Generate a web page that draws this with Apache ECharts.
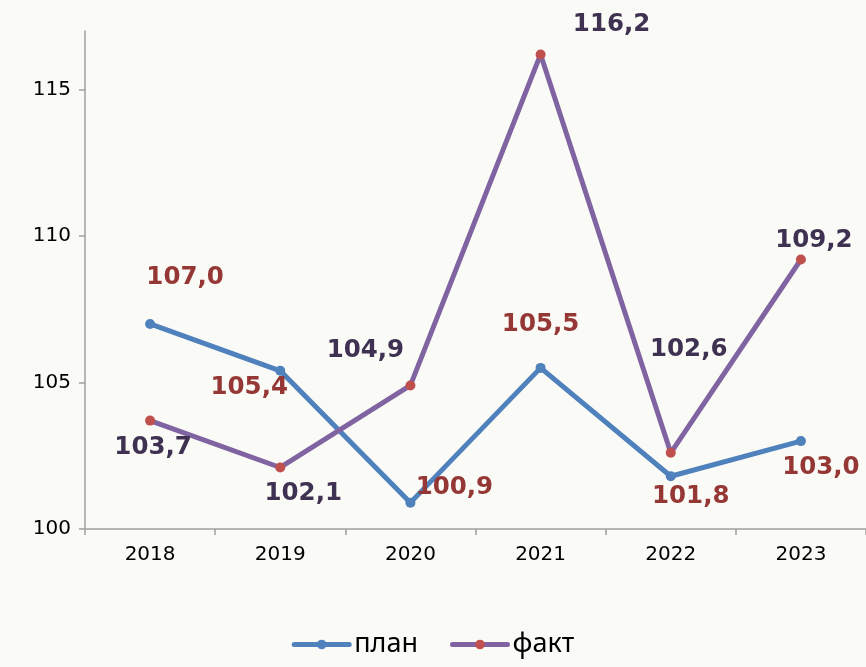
<!DOCTYPE html>
<html>
<head>
<meta charset="utf-8">
<script src="https://cdn.jsdelivr.net/npm/echarts@6/dist/echarts.min.js"></script>
<style>
html, body { margin: 0; padding: 0; background: #FAFAF6; }
#chart { width: 866px; height: 667px; }
</style>
</head>
<body>
<div id="chart"></div>
<script>
const years = ['2018', '2019', '2020', '2021', '2022', '2023']
const plan = [107.0, 105.4, 100.9, 105.5, 101.8, 103.0]
const fact = [103.7, 102.1, 104.9, 116.2, 102.6, 109.2]
const yTicks = [100, 105, 110, 115]

// label offsets per point (px)
const planOffsets = [[35, -46], [-31, 17], [44, -15], [0, -43], [20, 20], [20, 27]]
const factOffsets = [[3, 27], [23, 26], [-45, -35], [71, -30], [18, -103], [13, -19]]

const fmt = v => v.toFixed(1).replace('.', ',')

function withLabels (values, offsets, color) {
  return values.map((v, i) => ({
    value: v,
    label: {
      show: true,
      position: 'inside',
      offset: offsets[i],
      formatter: fmt(v),
      color: color,
      fontFamily: 'DejaVu Sans',
      fontWeight: 'bold',
      fontSize: 24.5
    }
  }))
}

const chart = echarts.init(document.getElementById('chart'))
const option = {
  backgroundColor: '#FAFAF6',
  animation: false,
  grid: { left: 85, right: -2, top: 31, bottom: 138, containLabel: false },
  legend: {
    bottom: 4,
    left: 'center',
    itemWidth: 55,
    itemHeight: 12,
    itemGap: 32,
    lineStyle: { width: 5, cap: 'round' },
    textStyle: { fontFamily: 'Noto Sans', fontSize: 27, color: '#000' },
    data: ['план', 'факт']
  },
  xAxis: {
    type: 'category',
    data: years,
    boundaryGap: true,
    axisLine: { lineStyle: { color: '#A0A0A0', width: 1.5 } },
    axisTick: { show: true, length: 6, lineStyle: { color: '#A0A0A0', width: 1.5 } },
    axisLabel: { fontFamily: 'DejaVu Sans', fontSize: 20, color: '#000', margin: 16 }
  },
  yAxis: {
    type: 'value',
    min: 100,
    max: 117,
    interval: 5,
    splitLine: { show: false },
    axisLine: { show: true, lineStyle: { color: '#A0A0A0', width: 1.5 } },
    axisTick: {
      show: true, length: 6, customValues: yTicks,
      lineStyle: { color: '#A0A0A0', width: 1.5 }
    },
    axisLabel: {
      fontFamily: 'DejaVu Sans', fontSize: 20, color: '#000', margin: 14,
      customValues: yTicks
    }
  },
  series: [
    {
      name: 'план',
      type: 'line',
      data: withLabels(plan, planOffsets, '#953735'),
      symbol: 'circle',
      symbolSize: 10,
      lineStyle: { color: '#4F81BD', width: 5 },
      itemStyle: { color: '#4F81BD' }
    },
    {
      name: 'факт',
      type: 'line',
      data: withLabels(fact, factOffsets, '#3F3151'),
      symbol: 'circle',
      symbolSize: 10,
      lineStyle: { color: '#8064A2', width: 5 },
      itemStyle: { color: '#C0504D' }
    }
  ]
}
chart.setOption(option)
</script>
</body>
</html>
